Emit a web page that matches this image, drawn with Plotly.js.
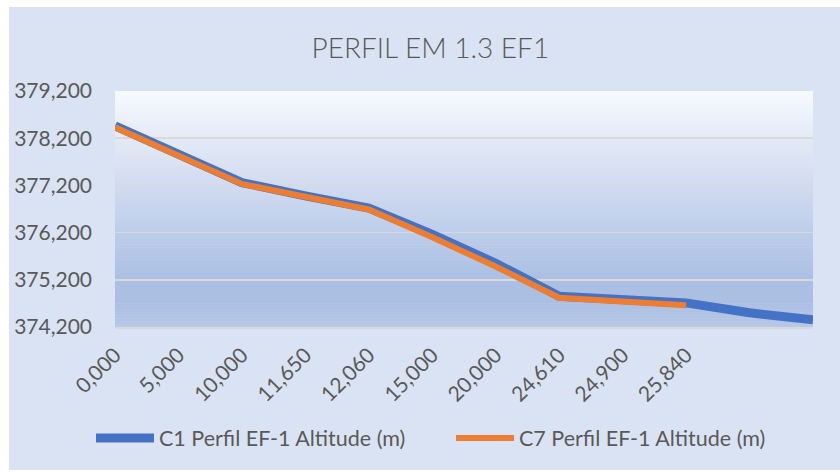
<!DOCTYPE html>
<html>
<head>
<meta charset="utf-8">
<script src="https://cdn.plot.ly/plotly-3.0.1.min.js"></script>
<style>
  html, body { margin: 0; padding: 0; background: #ffffff; width: 840px; height: 472px; overflow: hidden; }
  #chart { position: absolute; left: 9px; top: 7px; width: 831px; height: 463px; }
</style>
</head>
<body>
<div id="chart"></div>
<script>
// Category labels (distance, m) — last two categories carry no label
const categories = ["0,000", "5,000", "10,000", "11,650", "12,060", "15,000", "20,000", "24,610", "24,900", "25,840", "", ""];
// Series values (altitude, m)
const c1Altitude = [378.46, 377.86, 377.26, 376.98, 376.72, 376.16, 375.55, 374.85, 374.78, 374.71, 374.50, 374.35];
const c7Altitude = [378.43, 377.83, 377.23, 376.96, 376.69, 376.10, 375.48, 374.82, 374.73, 374.66, null, null];
const seriesNames = ["C1 Perfil EF-1 Altitude (m)", "C7 Perfil EF-1 Altitude (m)"];
// Y tick labels
const yTickValues = [374.2, 375.2, 376.2, 377.2, 378.2, 379.2];
const yTickLabels = ["374,200", "375,200", "376,200", "377,200", "378,200", "379,200"];

const xIdx = categories.map((_, i) => i);
const FONT = "Lato, 'Open Sans', sans-serif";
const TXT = "#595959";

// plot-area vertical gradient (top -> bottom)
const stops = [
  [0.00, [247, 249, 253]],
  [0.20, [228, 234, 246]],
  [0.40, [209, 219, 240]],
  [0.60, [189, 205, 233]],
  [0.80, [170, 191, 227]],
  [0.90, [171, 191, 227]],
  [1.00, [183, 200, 232]]
];
function colAt(t) {
  for (let i = 1; i < stops.length; i++) {
    if (t <= stops[i][0]) {
      const a = stops[i - 1], b = stops[i];
      const f = (t - a[0]) / (b[0] - a[0]);
      const c = a[1].map((v, k) => Math.round(v + (b[1][k] - v) * f));
      return `rgb(${c[0]},${c[1]},${c[2]})`;
    }
  }
  const c = stops[stops.length - 1][1];
  return `rgb(${c[0]},${c[1]},${c[2]})`;
}
const shapes = [];
const N = 80;
for (let i = 0; i < N; i++) {
  const y1 = 1 - i / N, y0 = 1 - (i + 1) / N;
  shapes.push({
    type: "rect", xref: "x domain", yref: "y domain",
    x0: 0, x1: 1, y0: y0 - 0.002, y1: y1,
    fillcolor: colAt((i + 0.5) / N), line: { width: 0 }, layer: "below"
  });
}

const traces = [
  {
    x: xIdx, y: c1Altitude, name: seriesNames[0], type: "scatter", mode: "lines",
    line: { color: "#4472c4", width: 9 }, legend: "legend"
  },
  {
    x: xIdx, y: c7Altitude, name: seriesNames[1], type: "scatter", mode: "lines",
    line: { color: "#ed7d31", width: 6 }, legend: "legend2"
  }
];

const legendBase = {
  orientation: "h",
  xref: "container", yref: "container",
  xanchor: "left",
  y: 1 - 431 / 463, yanchor: "middle",
  font: { family: FONT, size: 21.5, color: TXT },
  bgcolor: "rgba(0,0,0,0)",
  itemwidth: 58
};

const layout = {
  width: 831, height: 463,
  paper_bgcolor: "#dae3f3",
  plot_bgcolor: "#dae3f3",
  margin: { l: 106, r: 27, t: 84, b: 143 },
  font: { family: FONT, color: TXT, size: 20 },
  title: {
    text: "PERFIL EM 1.3 EF1",
    font: { family: FONT, size: 28, color: TXT, weight: 300 },
    xref: "container", yref: "container",
    x: 0.507, xanchor: "center", y: 0.911, yanchor: "middle"
  },
  xaxis: {
    type: "linear",
    range: [0, categories.length - 1],
    tickmode: "array", tickvals: xIdx, ticktext: categories,
    tickangle: -45,
    showgrid: false, zeroline: false,
    showline: true, linecolor: "#d9d9d9", linewidth: 1.5,
    ticks: "", ticklabelstandoff: 6,
    tickfont: { family: FONT, size: 21, color: TXT },
    fixedrange: true
  },
  yaxis: {
    range: [374.2 - 0.0005, 379.2 + 0.0005],
    tickmode: "array", tickvals: yTickValues, ticktext: yTickLabels,
    showgrid: true, gridcolor: "#d9d9d9", gridwidth: 1.5,
    zeroline: false, showline: false,
    ticks: "", ticklabelstandoff: 22,
    tickfont: { family: FONT, size: 21, color: TXT },
    fixedrange: true
  },
  shapes: shapes,
  showlegend: true,
  legend: Object.assign({}, legendBase, { x: 82 / 831 }),
  legend2: Object.assign({}, legendBase, { x: 442 / 831 })
};

Plotly.newPlot("chart", traces, layout, { displayModeBar: false, staticPlot: true });
</script>
</body>
</html>
